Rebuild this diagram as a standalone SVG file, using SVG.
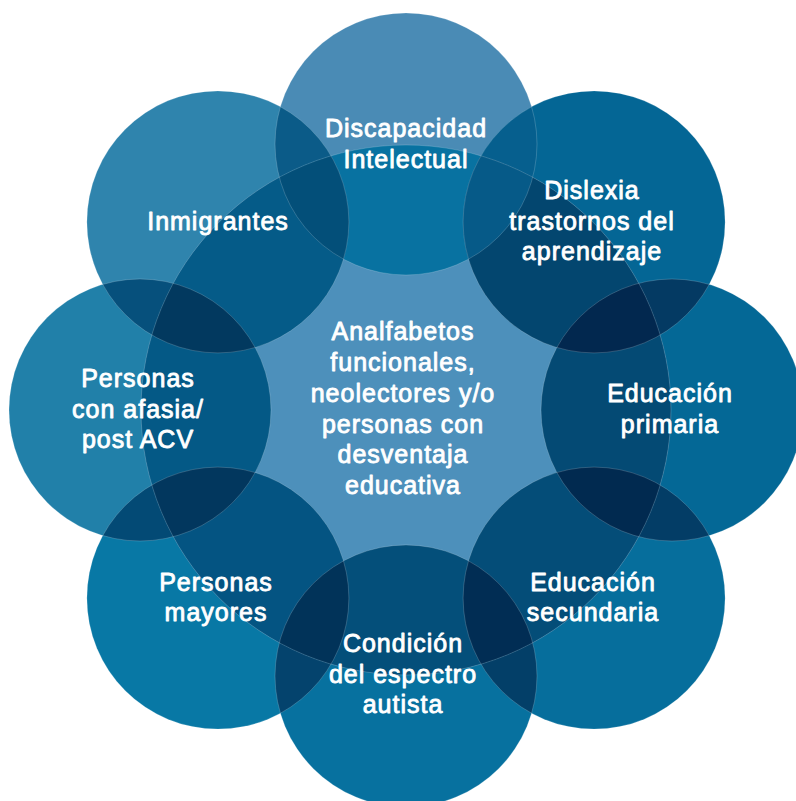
<svg xmlns="http://www.w3.org/2000/svg" width="796" height="801" viewBox="0 0 796 801">
<style>
.t{font-family:"Liberation Sans",Arial,sans-serif;font-size:25px;letter-spacing:1px;fill:#ffffff;stroke:#ffffff;stroke-width:0.85px;stroke-linejoin:round;text-anchor:middle}
.ol{fill:none;stroke:#ffffff;stroke-opacity:0.3;stroke-width:0.6}
</style>
<defs>
<circle id="c0" cx="406" cy="144" r="131"/>
<circle id="c1" cx="594.1" cy="221.9" r="131"/>
<circle id="c2" cx="672" cy="410" r="131"/>
<circle id="c3" cx="594.1" cy="598.1" r="131"/>
<circle id="c4" cx="406" cy="676" r="131"/>
<circle id="c5" cx="217.9" cy="598.1" r="131"/>
<circle id="c6" cx="140" cy="410" r="131"/>
<circle id="c7" cx="217.9" cy="221.9" r="131"/>
<circle id="cc" cx="406" cy="410" r="265"/>
<clipPath id="k0"><use href="#c0"/></clipPath>
<clipPath id="k1"><use href="#c1"/></clipPath>
<clipPath id="k2"><use href="#c2"/></clipPath>
<clipPath id="k3"><use href="#c3"/></clipPath>
<clipPath id="k4"><use href="#c4"/></clipPath>
<clipPath id="k5"><use href="#c5"/></clipPath>
<clipPath id="k6"><use href="#c6"/></clipPath>
<clipPath id="k7"><use href="#c7"/></clipPath>
<clipPath id="kc"><use href="#cc"/></clipPath>
</defs>
<rect width="796" height="801" fill="#ffffff"/>
<g id="regions">
<use href="#c0" fill="#4a8bb5"/>
<use href="#c1" fill="#046695"/>
<use href="#c2" fill="#046896"/>
<use href="#c3" fill="#066e9c"/>
<use href="#c4" fill="#07719f"/>
<use href="#c5" fill="#0878a5"/>
<use href="#c6" fill="#2180a9"/>
<use href="#c7" fill="#2f84ad"/>
<use href="#c1" clip-path="url(#k0)" fill="#065f8e"/>
<use href="#c2" clip-path="url(#k1)" fill="#043a63"/>
<use href="#c3" clip-path="url(#k2)" fill="#033d66"/>
<use href="#c4" clip-path="url(#k3)" fill="#033f68"/>
<use href="#c5" clip-path="url(#k4)" fill="#04436d"/>
<use href="#c6" clip-path="url(#k5)" fill="#034a75"/>
<use href="#c7" clip-path="url(#k6)" fill="#06507c"/>
<use href="#c0" clip-path="url(#k7)" fill="#0b5b88"/>
<use href="#cc" fill="#4d90bb"/>
<g clip-path="url(#kc)">
<use href="#c0" fill="#0872a1"/>
<use href="#c1" fill="#03466f"/>
<use href="#c2" fill="#044a74"/>
<use href="#c3" fill="#044d78"/>
<use href="#c4" fill="#044f7a"/>
<use href="#c5" fill="#045482"/>
<use href="#c6" fill="#045986"/>
<use href="#c7" fill="#055b88"/>
<use href="#c1" clip-path="url(#k0)" fill="#065a88"/>
<use href="#c2" clip-path="url(#k1)" fill="#02284f"/>
<use href="#c3" clip-path="url(#k2)" fill="#012a50"/>
<use href="#c4" clip-path="url(#k3)" fill="#012d54"/>
<use href="#c5" clip-path="url(#k4)" fill="#013359"/>
<use href="#c6" clip-path="url(#k5)" fill="#02375e"/>
<use href="#c7" clip-path="url(#k6)" fill="#02395f"/>
<use href="#c0" clip-path="url(#k7)" fill="#034f79"/>
</g>
</g>
<g id="node-center">
<use href="#cc" class="ol"/>
<text class="t" x="403" y="340">Analfabetos</text>
<text class="t" x="403" y="371">funcionales,</text>
<text class="t" x="403" y="402">neolectores y/o</text>
<text class="t" x="403" y="433">personas con</text>
<text class="t" x="403" y="463">desventaja</text>
<text class="t" x="403" y="494">educativa</text>
</g>
<g id="node-discapacidad">
<use href="#c0" class="ol"/>
<text class="t" x="406" y="137">Discapacidad</text>
<text class="t" x="406" y="168">Intelectual</text>
</g>
<g id="node-dislexia">
<use href="#c1" class="ol"/>
<text class="t" x="592" y="199">Dislexia</text>
<text class="t" x="592" y="230">trastornos del</text>
<text class="t" x="592" y="260">aprendizaje</text>
</g>
<g id="node-primaria">
<use href="#c2" class="ol"/>
<text class="t" x="670" y="402">Educación</text>
<text class="t" x="670" y="433">primaria</text>
</g>
<g id="node-secundaria">
<use href="#c3" class="ol"/>
<text class="t" x="593" y="591">Educación</text>
<text class="t" x="593" y="621">secundaria</text>
</g>
<g id="node-autista">
<use href="#c4" class="ol"/>
<text class="t" x="403" y="652">Condición</text>
<text class="t" x="403" y="683">del espectro</text>
<text class="t" x="403" y="713">autista</text>
</g>
<g id="node-mayores">
<use href="#c5" class="ol"/>
<text class="t" x="216" y="591">Personas</text>
<text class="t" x="216" y="621">mayores</text>
</g>
<g id="node-afasia">
<use href="#c6" class="ol"/>
<text class="t" x="138" y="387">Personas</text>
<text class="t" x="138" y="418">con afasia/</text>
<text class="t" x="138" y="448">post ACV</text>
</g>
<g id="node-inmigrantes">
<use href="#c7" class="ol"/>
<text class="t" x="218" y="230">Inmigrantes</text>
</g>
</svg>
